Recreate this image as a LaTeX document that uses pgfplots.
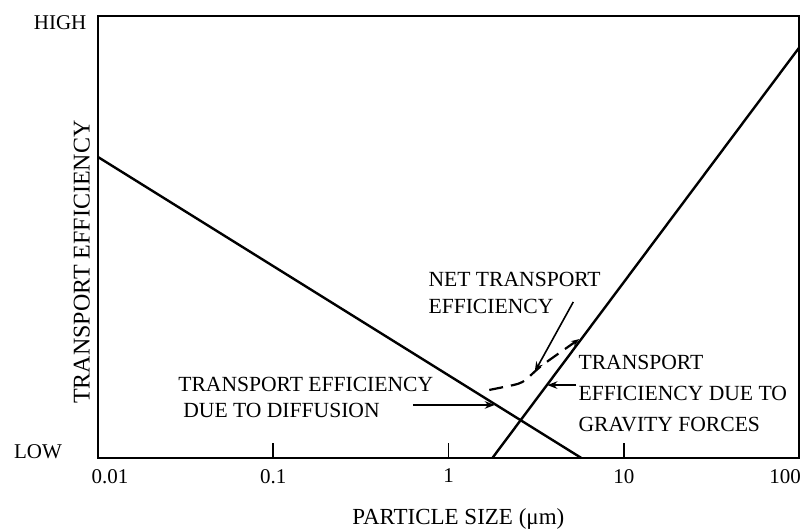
\documentclass[border=0pt]{standalone}
\usepackage{pgfplots}
\pgfplotsset{compat=1.18}
\usepackage{fontspec}
\setmainfont{Liberation Serif}
\usetikzlibrary{calc,arrows.meta}
\begin{document}
\begin{tikzpicture}
\begin{axis}[
  scale only axis,
  width=350.5pt, height=221pt,
  xmode=log, xmin=0.01, xmax=100,
  ymin=0, ymax=1,
  axis line style={line width=1pt},
  xtick={0.01,0.1,1,10,100},
  xticklabels={\hspace*{12pt}0.01,0.1,1,10,100\hspace*{14pt}},
  xminorticks=false,
  ytick=\empty,
  xtick pos=bottom,
  tick align=inside,
  major tick length=7.5pt,
  tick style={line width=0.8pt,black},
  xticklabel style={font=\fontsize{10.5}{12}\selectfont, yshift=-2pt},
  clip=false,
]
\addplot[black, line width=1.2pt] coordinates {(0.01,0.681) (5.73,0)};
\addplot[black, line width=1.2pt] coordinates {(1.78,0) (100,0.928)};
\addplot[black, line width=1.1pt, dash pattern=on 7pt off 4pt, smooth, -{Stealth[length=4pt]}] coordinates {(1.71,0.154) (2.08,0.161) (2.64,0.172) (3.43,0.210) (5.57,0.269)};

\node[font=\fontsize{10.5}{12}\selectfont] at (rel axis cs:-0.0856,0.0136) {LOW};
\node[font=\fontsize{10.5}{12}\selectfont] at (rel axis cs:-0.054,0.986) {HIGH};
\node[font=\fontsize{12}{14}\selectfont, rotate=90] at (rel axis cs:-0.023,0.443) {TRANSPORT EFFICIENCY};
\node[font=\fontsize{11.5}{14}\selectfont] at (rel axis cs:0.514,-0.138) {PARTICLE SIZE (μm)};

\node[font=\fontsize{10.8}{13.5}\selectfont, align=left, anchor=west, inner sep=0pt] at (rel axis cs:0.471,0.373) {NET TRANSPORT\\EFFICIENCY};
\node[font=\fontsize{10.8}{13}\selectfont, align=left, anchor=west, inner sep=0pt] at (rel axis cs:0.114,0.136) {TRANSPORT EFFICIENCY\\\hspace*{2.5pt}DUE TO DIFFUSION};
\node[font=\fontsize{10.8}{15.5}\selectfont, align=left, anchor=west, inner sep=0pt] at (rel axis cs:0.685,0.147) {TRANSPORT\\EFFICIENCY DUE TO\\GRAVITY FORCES};

\draw[line width=0.8pt, -{Stealth[length=5pt]}] (rel axis cs:0.449,0.120) -- (rel axis cs:0.566,0.120);
\draw[line width=0.8pt, -{Stealth[length=5pt]}] (rel axis cs:0.682,0.165) -- (rel axis cs:0.641,0.165);
\draw[line width=0.8pt, -{Stealth[length=5pt]}] (rel axis cs:0.678,0.353) -- (rel axis cs:0.623,0.195);
\end{axis}
\pgfresetboundingbox
\path[use as bounding box] ($(current axis.south west)+(-49pt,-36.5pt)$) rectangle ($(current axis.north east)+(4pt,8pt)$);
\end{tikzpicture}
\end{document}
